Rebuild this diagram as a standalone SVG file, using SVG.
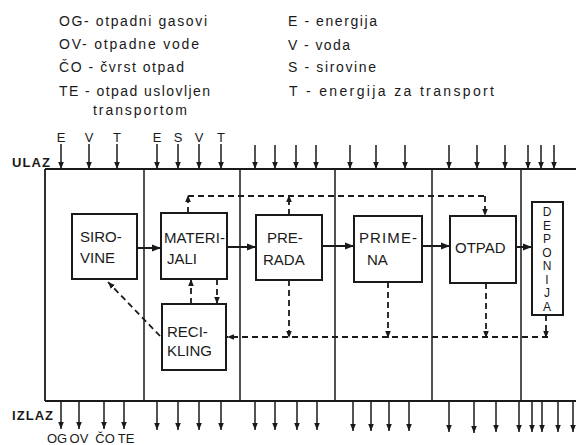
<svg xmlns="http://www.w3.org/2000/svg" width="576" height="445" viewBox="0 0 576 445">
<style>
.bg{fill:#ffffff}
.ln{stroke:#1a1a1a;stroke-width:1.8;fill:none}
.thin{stroke:#1a1a1a;stroke-width:1.5;fill:none}
.box{stroke:#1a1a1a;stroke-width:2;fill:#ffffff}
.ar{stroke:#1a1a1a;stroke-width:1.5;fill:none;marker-end:url(#ah)}
.sa{stroke:#1a1a1a;stroke-width:2;fill:none;marker-end:url(#ah2)}
.da{stroke:#1a1a1a;stroke-width:1.8;fill:none;stroke-dasharray:6 4}
.dam{stroke:#1a1a1a;stroke-width:1.8;fill:none;stroke-dasharray:6 4;marker-end:url(#ah)}
.lg{font-family:"Liberation Sans","DejaVu Sans",Arial,sans-serif;font-size:14px;fill:#1a1a1a}
.nd{font-family:"Liberation Sans","DejaVu Sans",Arial,sans-serif;font-size:15px;fill:#1a1a1a}
.io{font-family:"Liberation Sans","DejaVu Sans",Arial,sans-serif;font-size:13px;fill:#1a1a1a;text-anchor:middle}
.hd{font-family:"Liberation Sans","DejaVu Sans",Arial,sans-serif;font-size:13px;font-weight:bold;fill:#1a1a1a}
.dp{font-family:"Liberation Sans","DejaVu Sans",Arial,sans-serif;font-size:12px;fill:#1a1a1a;text-anchor:middle}
</style>
<defs>
<marker id="ah" viewBox="0 0 10 10" refX="10" refY="5" markerWidth="7" markerHeight="7" markerUnits="userSpaceOnUse" orient="auto"><path d="M0,1 L10,5 L0,9 z" fill="#1a1a1a"/></marker>
<marker id="ah2" viewBox="0 0 10 10" refX="10" refY="5" markerWidth="9" markerHeight="9" markerUnits="userSpaceOnUse" orient="auto"><path d="M0,1 L10,5 L0,9 z" fill="#1a1a1a"/></marker>
</defs>
<rect class="bg" x="0" y="0" width="576" height="445"/>

<g id="legend">
<text class="lg" x="59" y="26" textLength="148" lengthAdjust="spacing">OG- otpadni gasovi</text>
<text class="lg" x="59" y="49" textLength="140" lengthAdjust="spacing">OV- otpadne vode</text>
<text class="lg" x="59" y="72" textLength="125" lengthAdjust="spacing">ČO - čvrst otpad</text>
<text class="lg" x="59" y="96" textLength="151" lengthAdjust="spacing">TE - otpad uslovljen</text>
<text class="lg" x="93" y="115" textLength="94" lengthAdjust="spacing">transportom</text>
<text class="lg" x="288" y="26" textLength="89" lengthAdjust="spacing">E - energija</text>
<text class="lg" x="288" y="50" textLength="62" lengthAdjust="spacing">V - voda</text>
<text class="lg" x="288" y="72" textLength="88" lengthAdjust="spacing">S - sirovine</text>
<text class="lg" x="289" y="96" textLength="205" lengthAdjust="spacing">T - energija za transport</text>
</g>

<g id="frame">
<path class="ln" d="M45,169 H576 M45,401 H576 M45,169 V401"/>
<path class="thin" d="M144,169 V401 M240,169 V401 M335,169 V401 M432,169 V401 M521,169 V401"/>
<text class="hd" x="12" y="167" textLength="38" lengthAdjust="spacing">ULAZ</text>
<text class="hd" x="12" y="420" textLength="41" lengthAdjust="spacing">IZLAZ</text>
<text class="io" x="61" y="142">E</text>
<text class="io" x="89" y="142">V</text>
<text class="io" x="117" y="142">T</text>
<text class="io" x="157" y="142">E</text>
<text class="io" x="178" y="142">S</text>
<text class="io" x="199" y="142">V</text>
<text class="io" x="221" y="142">T</text>
<text class="io" x="57" y="443">OG</text>
<text class="io" x="79" y="443">OV</text>
<text class="io" x="105" y="443">ČO</text>
<text class="io" x="126" y="443">TE</text>
</g>

<g id="inputs">
<line class="ar" x1="61" y1="144" x2="61" y2="169"/>
<line class="ar" x1="89" y1="144" x2="89" y2="169"/>
<line class="ar" x1="117" y1="144" x2="117" y2="169"/>
<line class="ar" x1="157" y1="144" x2="157" y2="169"/>
<line class="ar" x1="178" y1="144" x2="178" y2="169"/>
<line class="ar" x1="199" y1="144" x2="199" y2="169"/>
<line class="ar" x1="221" y1="144" x2="221" y2="169"/>
<line class="ar" x1="255" y1="145" x2="255" y2="169"/>
<line class="ar" x1="275" y1="145" x2="275" y2="169"/>
<line class="ar" x1="296" y1="145" x2="296" y2="169"/>
<line class="ar" x1="316" y1="145" x2="316" y2="169"/>
<line class="ar" x1="350" y1="145" x2="350" y2="169"/>
<line class="ar" x1="376" y1="145" x2="376" y2="169"/>
<line class="ar" x1="405" y1="145" x2="405" y2="169"/>
<line class="ar" x1="449" y1="145" x2="449" y2="169"/>
<line class="ar" x1="477" y1="145" x2="477" y2="169"/>
<line class="ar" x1="505" y1="145" x2="505" y2="169"/>
<line class="ar" x1="528" y1="145" x2="528" y2="169"/>
<line class="ar" x1="541" y1="145" x2="541" y2="169"/>
<line class="ar" x1="554" y1="145" x2="554" y2="169"/>
</g>

<g id="outputs">
<line class="ar" x1="61" y1="401" x2="61" y2="429"/>
<line class="ar" x1="79" y1="401" x2="79" y2="429"/>
<line class="ar" x1="104" y1="401" x2="104" y2="429"/>
<line class="ar" x1="124" y1="401" x2="124" y2="429"/>
<line class="ar" x1="157" y1="401" x2="157" y2="430"/>
<line class="ar" x1="178" y1="401" x2="178" y2="430"/>
<line class="ar" x1="199" y1="401" x2="199" y2="430"/>
<line class="ar" x1="221" y1="401" x2="221" y2="430"/>
<line class="ar" x1="255" y1="401" x2="255" y2="430"/>
<line class="ar" x1="275" y1="401" x2="275" y2="430"/>
<line class="ar" x1="297" y1="401" x2="297" y2="430"/>
<line class="ar" x1="317" y1="401" x2="317" y2="430"/>
<line class="ar" x1="353" y1="401" x2="353" y2="431"/>
<line class="ar" x1="371" y1="401" x2="371" y2="431"/>
<line class="ar" x1="389" y1="401" x2="389" y2="431"/>
<line class="ar" x1="409" y1="401" x2="409" y2="431"/>
<line class="ar" x1="449" y1="401" x2="449" y2="432"/>
<line class="ar" x1="474" y1="401" x2="474" y2="433"/>
<line class="ar" x1="496" y1="401" x2="496" y2="432"/>
<line class="ar" x1="519" y1="401" x2="519" y2="432"/>
<line class="ar" x1="532" y1="401" x2="532" y2="432"/>
<line class="ar" x1="542" y1="401" x2="542" y2="432"/>
<line class="ar" x1="558" y1="401" x2="558" y2="432"/>
<line class="ar" x1="573" y1="401" x2="573" y2="432"/>
</g>

<g id="connectors">
<line class="sa" x1="137" y1="248" x2="161" y2="248"/>
<line class="sa" x1="227" y1="247" x2="256" y2="247"/>
<line class="sa" x1="322" y1="246" x2="354" y2="246"/>
<line class="sa" x1="422" y1="246" x2="450" y2="246"/>
<line class="sa" x1="516" y1="247" x2="532" y2="247"/>
<line class="da" x1="188" y1="196" x2="485" y2="196"/>
<line class="dam" x1="188" y1="213" x2="188" y2="195"/>
<line class="dam" x1="289" y1="215" x2="289" y2="195"/>
<line class="dam" x1="485" y1="196" x2="485" y2="216"/>
<line class="dam" x1="191" y1="304" x2="191" y2="279"/>
<line class="dam" x1="217" y1="279" x2="217" y2="304"/>
<line class="dam" x1="160" y1="336" x2="108" y2="282"/>
<line class="dam" x1="548" y1="337" x2="227" y2="337"/>
<line class="dam" x1="289" y1="280" x2="289" y2="338"/>
<line class="dam" x1="388" y1="282" x2="388" y2="338"/>
<line class="dam" x1="486" y1="283" x2="486" y2="338"/>
<line class="dam" x1="546" y1="315" x2="546" y2="338"/>
</g>

<g id="sirovine">
<rect class="box" x="72" y="214" width="65" height="65"/>
<text class="nd" x="80" y="242">SIRO-</text>
<text class="nd" x="80" y="263">VINE</text>
</g>
<g id="materijali">
<rect class="box" x="161" y="213" width="66" height="66"/>
<text class="nd" x="164" y="243" textLength="61" lengthAdjust="spacing">MATERI-</text>
<text class="nd" x="167" y="264">JALI</text>
</g>
<g id="prerada">
<rect class="box" x="256" y="215" width="66" height="65"/>
<text class="nd" x="267" y="243">PRE-</text>
<text class="nd" x="263" y="265">RADA</text>
</g>
<g id="primena">
<rect class="box" x="354" y="216" width="68" height="66"/>
<text class="nd" x="359" y="243" textLength="58" lengthAdjust="spacing">PRIME-</text>
<text class="nd" x="367" y="265">NA</text>
</g>
<g id="otpad">
<rect class="box" x="450" y="216" width="66" height="67"/>
<text class="nd" x="455" y="253">OTPAD</text>
</g>
<g id="deponija">
<rect class="box" x="532" y="202" width="31" height="113"/>
<text class="dp" x="547" y="216">D</text>
<text class="dp" x="547" y="229.5">E</text>
<text class="dp" x="547" y="243">P</text>
<text class="dp" x="547" y="256.5">O</text>
<text class="dp" x="547" y="270">N</text>
<text class="dp" x="547" y="283.5">I</text>
<text class="dp" x="547" y="297">J</text>
<text class="dp" x="547" y="310.5">A</text>
</g>
<g id="recikling">
<rect class="box" x="162" y="304" width="64" height="66"/>
<text class="nd" x="167" y="337">RECI-</text>
<text class="nd" x="167" y="356">KLING</text>
</g>
</svg>
